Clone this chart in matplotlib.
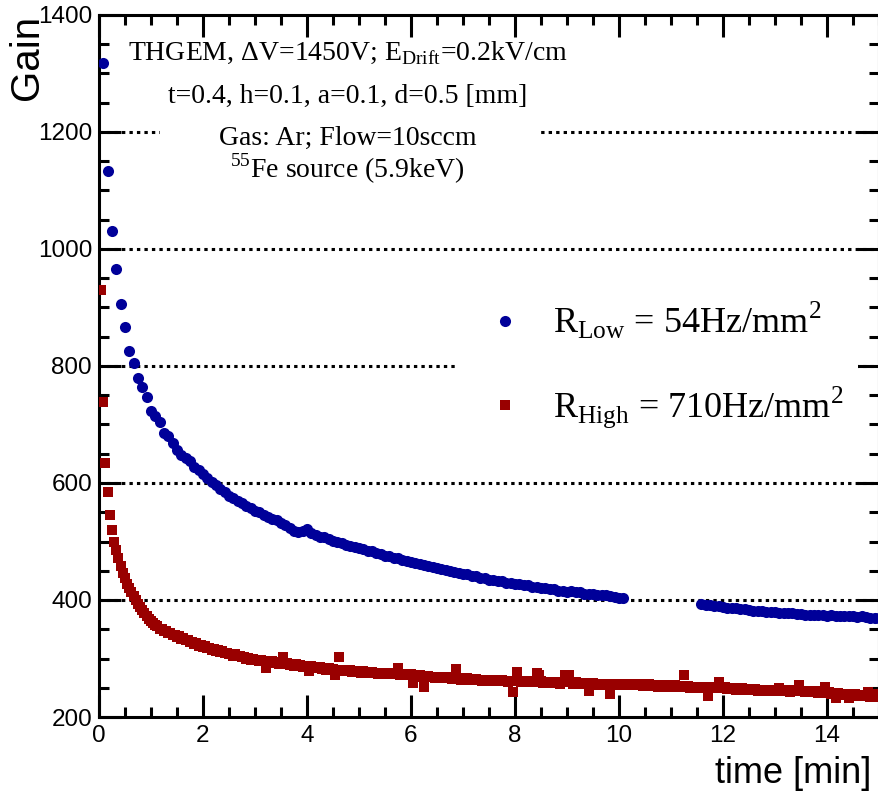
import numpy as np
import matplotlib
matplotlib.use('Agg')
import matplotlib.pyplot as plt
from matplotlib.patches import Rectangle
from matplotlib.ticker import MultipleLocator

plt.rcParams['font.family'] = ['Liberation Sans', 'DejaVu Sans']

# low rate run, one point per 5 s (no data between ~10.1 and ~11.5 min)
low_gain_a = [1318, 1134, 1030, 966, 906, 866, 826, 805, 780, 764, 747, 723,
              715, 705, 686, 681, 668, 657, 648, 643, 638, 628, 622, 615,
              609, 601, 597, 590, 585, 578, 575, 569, 566, 560, 557, 552,
              550, 545, 542, 538, 536, 531, 528, 523, 518, 517, 518, 521,
              514, 511, 508, 507, 504, 501, 500, 497, 494, 493, 491, 489,
              488, 484, 483, 480, 479, 476, 475, 472, 471, 468, 467, 465,
              464, 461, 460, 458, 457, 454, 453, 451, 450, 448, 447, 445,
              444, 441, 441, 438, 438, 435, 435, 432, 432, 429, 429, 427,
              427, 425, 425, 422, 422, 420, 420, 418, 418, 416, 416, 414,
              415, 413, 413, 411, 411, 410, 409, 408, 408, 406, 405, 404,
              403]
low_gain_b = [393, 391, 392, 390, 389, 388,
              387, 386, 386, 384, 384, 383, 382, 382, 381, 380, 379, 379,
              378, 378, 377, 377, 376, 376, 375, 375, 374, 374, 374, 373,
              374, 373, 373, 372, 373, 372, 371, 372, 371, 370, 370, 369]

# high rate run, one point per 2.5 s
high_gain = [930, 738, 635, 585, 545, 520, 500, 485, 472, 458, 447, 437,
             428, 420, 413, 407, 400, 394, 388, 383, 377, 372, 368, 364,
             361, 357, 356, 351, 351, 347, 347, 343, 343, 340, 340, 337,
             338, 334, 335, 331, 332, 328, 329, 325, 326, 322, 323, 320,
             321, 318, 318, 315, 316, 313, 314, 311, 312, 309, 310, 307,
             308, 305, 307, 304, 305, 302, 303, 300, 301, 298, 300, 297,
             298, 296, 297, 295, 283, 296, 293, 295, 292, 294, 291, 293,
             303, 290, 292, 289, 291, 288, 290, 287, 289, 286, 288, 285,
             279, 287, 284, 286, 283, 285, 282, 284, 281, 283, 280, 282,
             272, 280, 303, 281, 279, 280, 278, 280, 277, 279, 277, 279,
             276, 278, 276, 277, 275, 277, 275, 276, 274, 276, 274, 276,
             273, 275, 273, 275, 273, 283, 272, 274, 272, 273, 271, 273,
             258, 272, 270, 271, 269, 252, 268, 270, 268, 269, 267, 269,
             267, 268, 266, 268, 266, 267, 265, 267, 282, 267, 264, 266,
             264, 266, 263, 265, 263, 265, 263, 264, 262, 264, 262, 264,
             261, 263, 261, 263, 261, 263, 261, 262, 260, 262, 243, 262,
             277, 262, 260, 261, 259, 261, 259, 261, 259, 275, 272, 261,
             258, 260, 258, 260, 258, 260, 258, 259, 257, 259, 271, 259,
             272, 259, 257, 259, 256, 258, 256, 258, 256, 244, 256, 258,
             255, 257, 255, 257, 255, 257, 255, 240, 255, 256, 254, 256,
             257, 254, 256, 254, 255, 257, 254, 255, 256, 254, 253, 256,
             254, 256, 253, 255, 254, 252, 255, 253, 254, 252, 254, 253,
             252, 254, 251, 253, 252, 272, 251, 253, 250, 252, 251, 250,
             252, 250, 252, 250, 236, 252, 249, 251, 249, 260, 251, 249,
             251, 248, 250, 248, 250, 247, 249, 247, 249, 246, 248, 246,
             248, 246, 248, 245, 247, 245, 247, 245, 247, 244, 246, 244,
             247, 249, 245, 247, 244, 246, 243, 246, 244, 246, 254, 244,
             245, 243, 245, 242, 244, 242, 244, 241, 243, 241, 252, 241,
             242, 240, 241, 232, 241, 238, 240, 238, 239, 232, 239, 237,
             239, 236, 238, 236, 238, 236, 242, 235, 237, 235, 240, 236]

info_lines = ['THGEM, ΔV=1450V; E$_{\\mathregular{Drift}}$=0.2kV/cm',
              't=0.4, h=0.1, a=0.1, d=0.5 [mm]',
              'Gas: Ar; Flow=10sccm',
              '$^{\\mathregular{55}}$Fe source (5.9keV)']
low_label = 'R$_{\\mathregular{Low}}$ = 54Hz/mm$^{\\mathregular{2}}$'
high_label = 'R$_{\\mathregular{High}}$ = 710Hz/mm$^{\\mathregular{2}}$'

low_t = np.concatenate([np.arange(1, len(low_gain_a) + 1) / 12.0,
                        np.arange(181 - len(low_gain_b), 181) / 12.0])
low_gain = np.array(low_gain_a + low_gain_b)
high_t = np.arange(1, len(high_gain) + 1) / 24.0

fig = plt.figure(figsize=(8.79, 7.91), dpi=100)
ax = fig.add_axes([99 / 879, 1 - 717 / 791, 780 / 879, 702 / 791])

ax.plot(low_t, low_gain, 'o', color='#000099', ms=8.0, mew=0, label=low_label, zorder=3)
ax.plot(high_t, high_gain, 's', color='#990000', ms=7.2, mew=0, label=high_label, zorder=3)

ax.set_xlim(0, 15)
ax.set_ylim(200, 1400)
ax.xaxis.set_major_locator(MultipleLocator(2))
ax.xaxis.set_minor_locator(MultipleLocator(0.5))
ax.yaxis.set_major_locator(MultipleLocator(200))
ax.yaxis.set_minor_locator(MultipleLocator(50))
ax.tick_params(which='both', direction='in', top=True, right=True, width=2.2, labelsize=17.5)
ax.tick_params(which='major', length=15.5)
ax.tick_params(which='minor', length=7.5)
ax.tick_params(axis='x', pad=6)
ax.tick_params(axis='y', pad=5)
for s in ax.spines.values():
    s.set_linewidth(2.2)

for g in [400, 600, 800, 1000, 1200]:
    ax.axhline(g, color='black', lw=2.2, ls=(0, (1.1, 1.35)), dash_capstyle='butt', zorder=1)

ax.set_ylabel('Gain', loc='top', fontsize=29)
ax.yaxis.set_label_coords(-0.068, 1.0)
ax.set_xlabel('time [min]', loc='right', fontsize=26)
ax.xaxis.set_label_coords(0.99, -0.055)

# info box
ax.add_patch(Rectangle((0.078, 0.75), 0.487, 0.217, transform=ax.transAxes,
                       facecolor='white', edgecolor='none', zorder=4))
for txt, yy in zip(info_lines, [0.935, 0.875, 0.815, 0.768]):
    ax.text(0.319, yy, txt, transform=ax.transAxes, ha='center', va='baseline',
            fontsize=20, family='Liberation Serif', zorder=5)

leg = ax.legend(loc='center left', bbox_to_anchor=(0.456, 0.501), borderaxespad=0,
                numpoints=1, handlelength=2.0, handletextpad=0.33, labelspacing=1.2,
                prop={'family': 'Liberation Serif', 'size': 26},
                frameon=True, fancybox=False, framealpha=1, facecolor='white',
                edgecolor='none')

fig.savefig('out.png', dpi=100)
